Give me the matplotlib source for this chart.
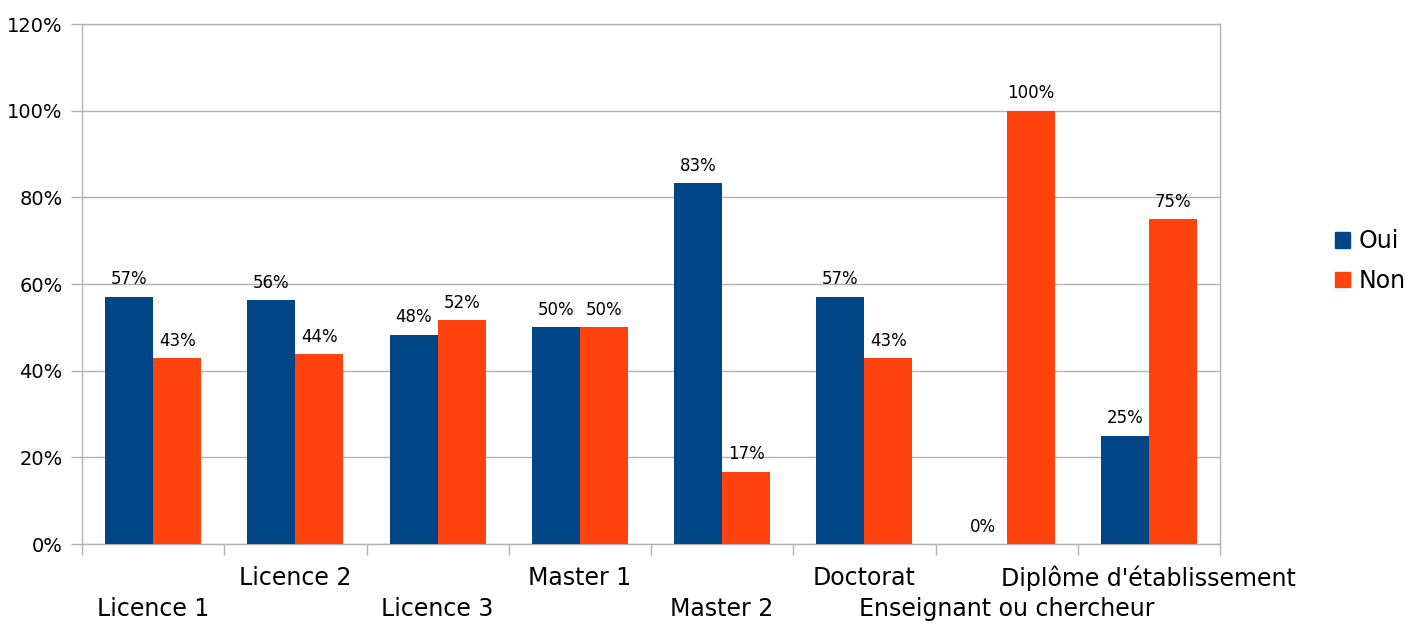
import matplotlib
matplotlib.use("Agg")
import matplotlib.pyplot as plt
import matplotlib.transforms as mtransforms
from matplotlib.patches import Patch
import numpy as np

categories = ["Licence 1", "Licence 2", "Licence 3", "Master 1", "Master 2",
              "Doctorat", "Enseignant ou chercheur", "Diplôme d'établissement"]
oui = [57.1, 56.25, 48.3, 50.0, 83.3, 57.1, 0.0, 25.0]
non = [42.9, 43.75, 51.7, 50.0, 16.7, 42.9, 100.0, 75.0]
oui_labels = ["57%", "56%", "48%", "50%", "83%", "57%", "0%", "25%"]
non_labels = ["43%", "44%", "52%", "50%", "17%", "43%", "100%", "75%"]
yticks = [0, 20, 40, 60, 80, 100, 120]

plt.rcParams['font.family'] = ['DejaVu Sans']
C_OUI = "#004586"
C_NON = "#ff420e"
GRID = "#b3b3b3"

fig = plt.figure(figsize=(14.2, 6.24), dpi=100)
ax = fig.add_axes([82/1420, 80/624, (1220-82)/1420, (544-24)/624])

x = np.arange(len(categories))
w = 0.3375
b1 = ax.bar(x - w/2, oui, w, color=C_OUI, zorder=3)
b2 = ax.bar(x + w/2, non, w, color=C_NON, zorder=3)

for bars, labs in ((b1, oui_labels), (b2, non_labels)):
    for r, lab in zip(bars, labs):
        ax.annotate(lab, (r.get_x() + r.get_width()/2, r.get_height()),
                    xytext=(0, 6), textcoords="offset points",
                    ha="center", va="bottom", fontsize=12, color="#000000")

ax.set_xlim(-0.5, len(categories) - 0.5)
ax.set_ylim(0, 120)
ax.set_yticks(yticks)
ax.set_yticklabels([f"{v}%" for v in yticks], fontsize=14)
ax.yaxis.grid(True, color=GRID, linewidth=1, zorder=0)
ax.tick_params(axis="y", length=8, width=1, color=GRID, pad=6)

ax.set_xticks(x)
ax.set_xticklabels([])
ax.tick_params(axis="x", which="major", length=0)
ax.set_xticks(np.arange(-0.5, len(categories), 1.0), minor=True)
ax.tick_params(axis="x", which="minor", length=8, width=1, color=GRID)

trans = mtransforms.blended_transform_factory(ax.transData, ax.transAxes)
for i, c in enumerate(categories):
    dy = -65 if i % 2 == 0 else -34
    t = mtransforms.offset_copy(trans, fig=fig, x=0, y=dy * 72 / 100, units="points")
    ax.text(i, 0, c, transform=t, ha="center", va="center", fontsize=17)

for s in ax.spines.values():
    s.set_color(GRID)
    s.set_linewidth(1)

handles = [Patch(color=C_OUI, label="Oui"), Patch(color=C_NON, label="Non")]
fig.legend(handles=handles, loc="center left", bbox_to_anchor=(1335/1420, 1 - 261/624),
           frameon=False, fontsize=17, handlelength=0.65, handleheight=0.65,
           handletextpad=0.35, labelspacing=0.65, borderpad=0, borderaxespad=0)

fig.savefig("out.png", dpi=100)
